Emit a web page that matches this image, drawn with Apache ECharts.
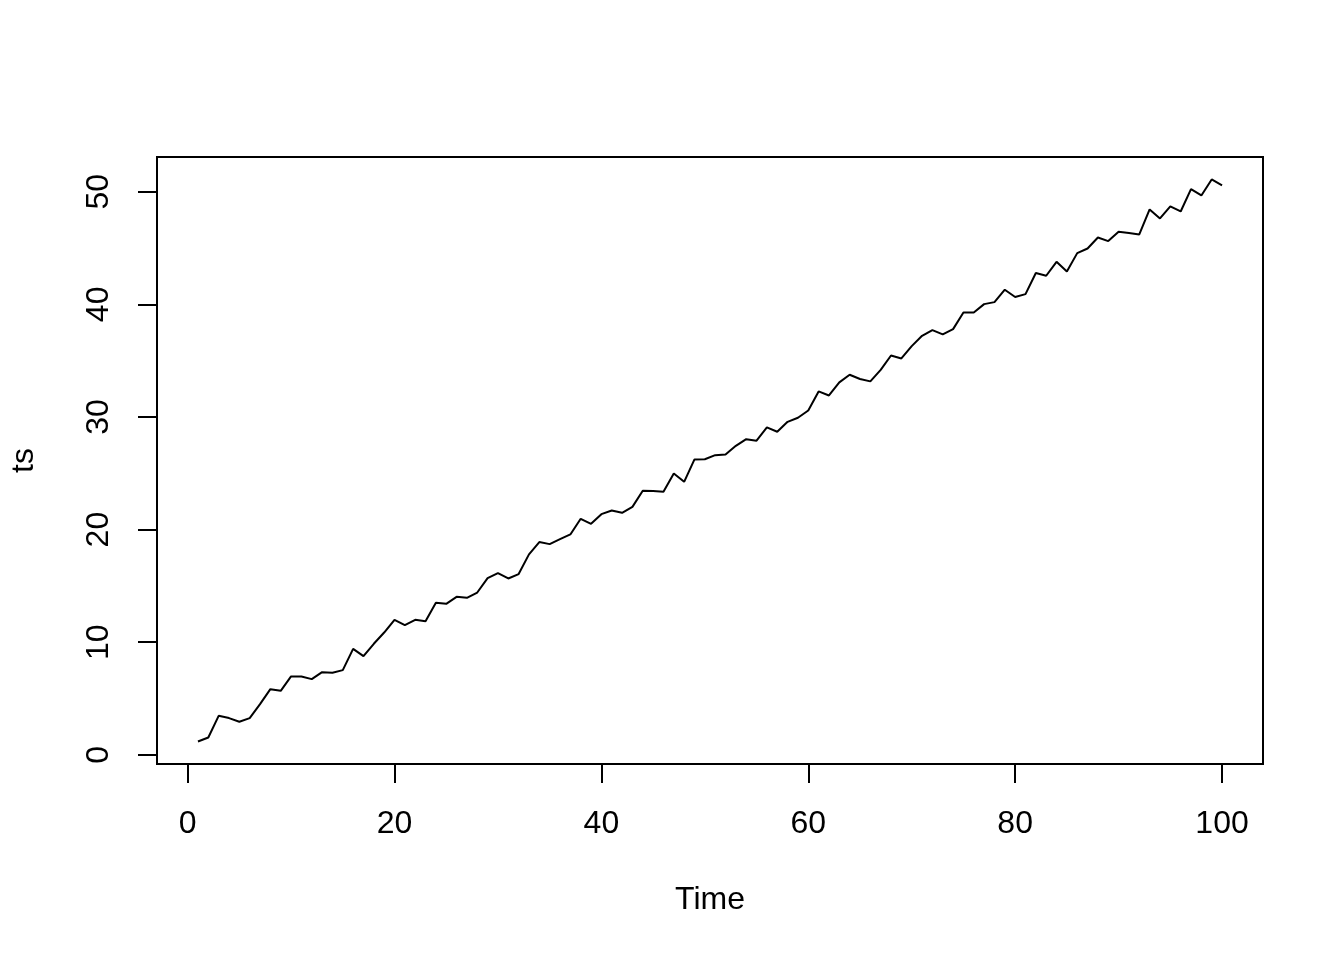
<!DOCTYPE html>
<html>
<head>
<meta charset="utf-8">
<script src="https://cdn.jsdelivr.net/npm/echarts@6/dist/echarts.min.js"></script>
<style>
html,body{margin:0;padding:0;background:#fff;}
#chart{width:1344px;height:960px;}
</style>
</head>
<body>
<div id="chart"></div>
<script>
const time = [1,2,3,4,5,6,7,8,9,10,11,12,13,14,15,16,17,18,19,20,
  21,22,23,24,25,26,27,28,29,30,31,32,33,34,35,36,37,38,39,40,
  41,42,43,44,45,46,47,48,49,50,51,52,53,54,55,56,57,58,59,60,
  61,62,63,64,65,66,67,68,69,70,71,72,73,74,75,76,77,78,79,80,
  81,82,83,84,85,86,87,88,89,90,91,92,93,94,95,96,97,98,99,100];
const ts = [1.18,1.54,3.46,3.26,2.93,3.26,4.5,5.83,5.68,6.96,
  6.96,6.72,7.34,7.28,7.52,9.41,8.76,9.86,10.86,11.99,
  11.52,11.99,11.87,13.5,13.41,14.03,13.94,14.41,15.69,16.14,
  15.66,16.05,17.8,18.89,18.71,19.15,19.57,20.96,20.51,21.37,
  21.7,21.49,22.02,23.45,23.42,23.36,24.98,24.24,26.23,26.25,
  26.61,26.67,27.44,28.03,27.89,29.07,28.69,29.57,29.93,30.58,
  32.27,31.91,33.07,33.75,33.37,33.16,34.19,35.46,35.2,36.29,
  37.21,37.71,37.33,37.8,39.28,39.28,40.02,40.2,41.3,40.65,
  40.91,42.78,42.54,43.78,42.92,44.55,44.96,45.94,45.62,46.45,
  46.33,46.21,48.43,47.63,48.7,48.25,50.24,49.67,51.09,50.56];
const xTicks = [0,20,40,60,80,100];
const yTicks = [0,10,20,30,40,50];
const xName = 'Time';
const yName = 'ts';

function pad(arr){
  const lo = Math.min(...arr), hi = Math.max(...arr), d = (hi-lo)*0.04;
  return [lo-d, hi+d];
}
const xr = pad(time), yr = pad(ts);
const font = 'Liberation Sans, Arial, Helvetica, sans-serif';

const chart = echarts.init(document.getElementById('chart'), null, {renderer:'canvas'});
chart.setOption({
  animation:false,
  backgroundColor:'#fff',
  grid:{left:157, top:157, width:1106, height:607, show:true, borderColor:'#000', borderWidth:2, backgroundColor:'transparent'},
  xAxis:{
    type:'value', min:xr[0], max:xr[1],
    name:xName, nameLocation:'middle', nameGap:120,
    nameTextStyle:{fontSize:32, color:'#000', fontFamily:font},
    axisLine:{show:false, onZero:false},
    splitLine:{show:false},
    axisTick:{show:true, customValues:xTicks, length:19, lineStyle:{color:'#000', width:2}},
    axisLabel:{show:true, customValues:xTicks, fontSize:32, color:'#000', fontFamily:font, margin:44}
  },
  yAxis:{
    type:'value', min:yr[0], max:yr[1],
    name:yName, nameLocation:'middle', nameGap:117,
    nameTextStyle:{fontSize:32, color:'#000', fontFamily:font},
    axisLine:{show:false, onZero:false},
    splitLine:{show:false},
    axisTick:{show:true, customValues:yTicks, length:19, lineStyle:{color:'#000', width:2}},
    axisLabel:{show:true, customValues:yTicks, rotate:90, fontSize:32, color:'#000', fontFamily:font, margin:42}
  },
  series:[{
    type:'line',
    data: time.map((t,i)=>[t, ts[i]]),
    showSymbol:false,
    lineStyle:{color:'#000', width:2},
    silent:true
  }]
});
</script>
</body>
</html>
